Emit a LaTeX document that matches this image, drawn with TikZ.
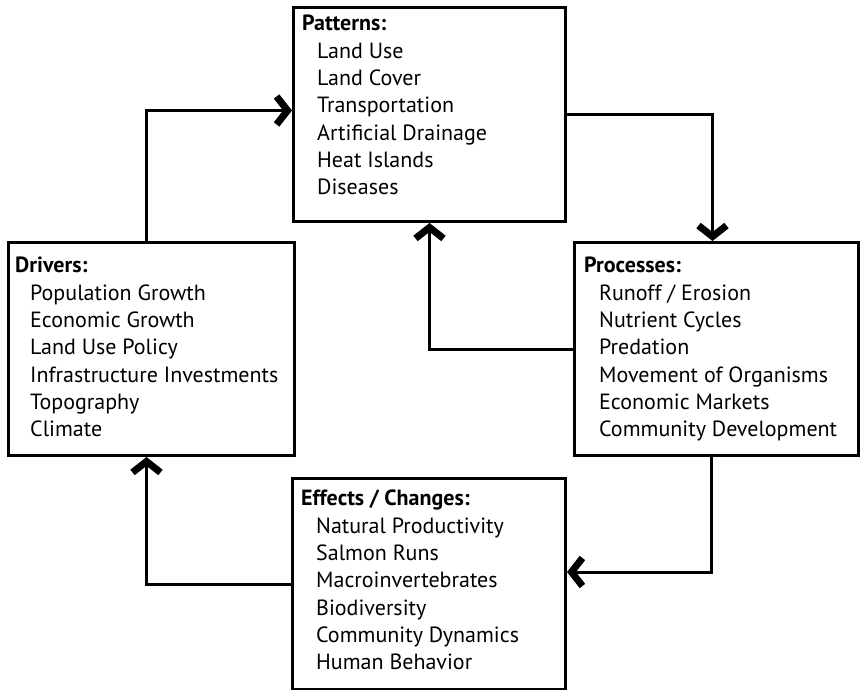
\documentclass[tikz,border=0pt]{standalone}
\usepackage{fontspec}
\setmainfont{PT Sans}
\usepackage{tikz}
\usetikzlibrary{arrows.meta,positioning}
\newcommand{\listindent}{\hspace*{15pt}}

\begin{document}
\begin{tikzpicture}[x=1pt, y=-1pt,
box/.style={rectangle, draw, line width=3pt, anchor=north west, inner sep=0pt},
list/.style={anchor=north west, align=left, inner sep=0pt, font=\fontsize{22}{27.3}\selectfont},
flow/.style={line width=3pt, -{Straight Barb[length=11pt, width=28pt, line width=7pt]}}
]
\useasboundingbox (0,0) rectangle (860,690);
\node[box, minimum width=272pt, minimum height=214pt] (patterns) at (292,6) {};
\node[box, minimum width=286pt, minimum height=213pt] (drivers) at (7,241) {};
\node[box, minimum width=284pt, minimum height=213pt] (processes) at (573,241) {};
\node[box, minimum width=273pt, minimum height=211pt] (effects) at (291,477) {};
\node[list] (patternstext) at (302,15) {\textbf{Patterns:}\\\listindent Land Use\\\listindent Land Cover\\\listindent Transportation\\\listindent Artificial Drainage\\\listindent Heat Islands\\\listindent Diseases};
\node[list] (driverstext) at (15,257) {\textbf{Drivers:}\\\listindent Population Growth\\\listindent Economic Growth\\\listindent Land Use Policy\\\listindent Infrastructure Investments\\\listindent Topography\\\listindent Climate};
\node[list] (processestext) at (584,257) {\textbf{Processes:}\\\listindent Runoff / Erosion\\\listindent Nutrient Cycles\\\listindent Predation\\\listindent Movement of Organisms\\\listindent Economic Markets\\\listindent Community Development};
\node[list] (effectstext) at (301,490) {\textbf{Effects / Changes:}\\\listindent Natural Productivity\\\listindent Salmon Runs\\\listindent Macroinvertebrates\\\listindent Biodiversity\\\listindent Community Dynamics\\\listindent Human Behavior};
\draw[flow] ([xshift=-5pt]drivers.north) |- ([yshift=4pt]patterns.west);
\draw[flow] (patterns) -| ([xshift=-4pt]processes.north);
\draw[flow] (processes) -| (patterns);
\draw[flow] ([xshift=-5pt]processes.south) |- ([yshift=12pt]effects.east);
\draw[flow] (effects) -| ([xshift=-5pt]drivers.south);
\end{tikzpicture}
\end{document}
